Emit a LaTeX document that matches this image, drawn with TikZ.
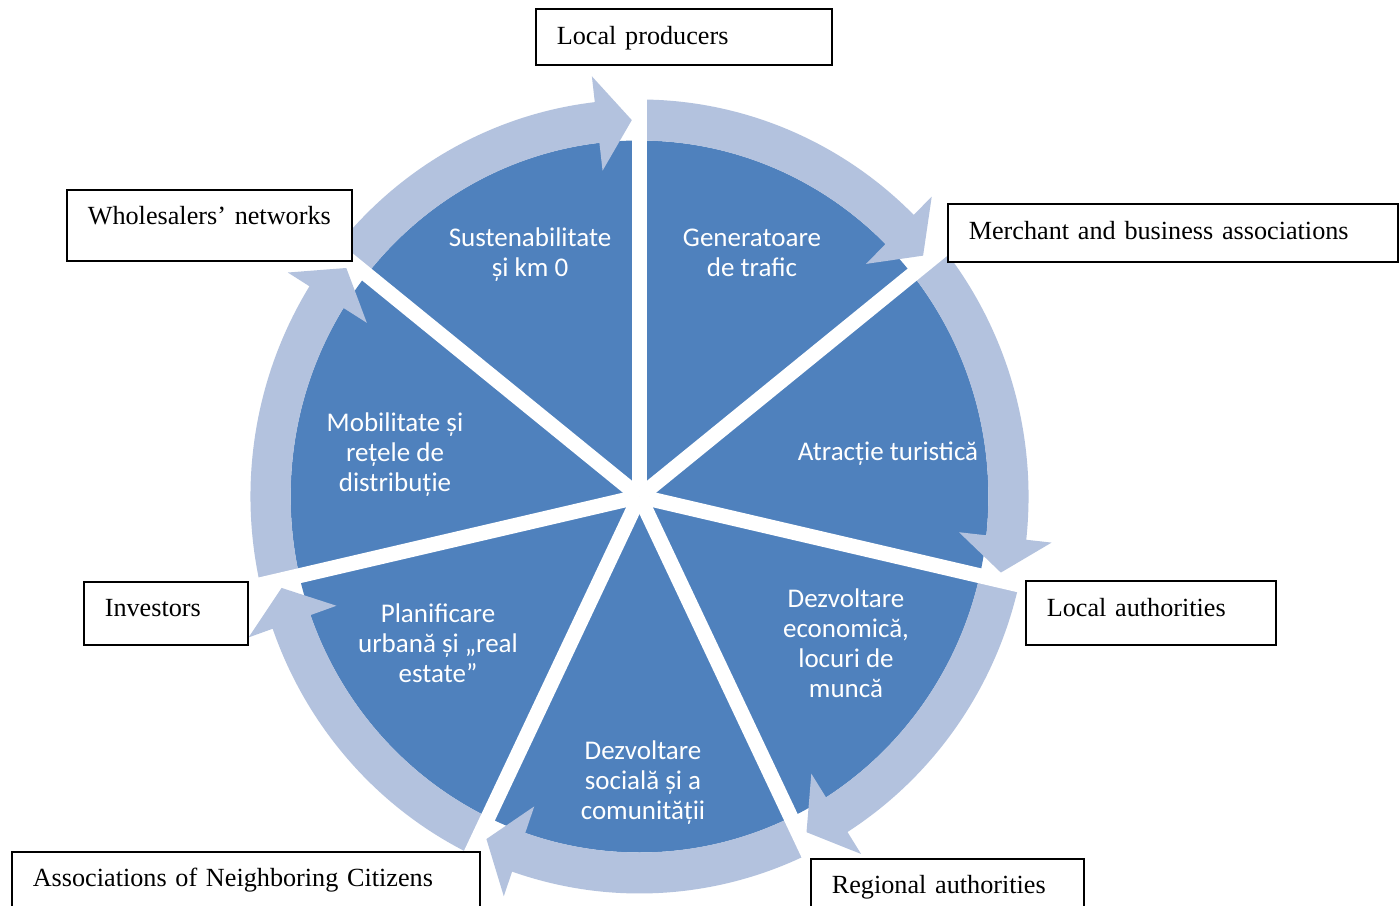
\documentclass[tikz,border=0pt]{standalone}
\usepackage{fontspec}
\setmainfont{Liberation Serif}
\newfontfamily\wedgefont{Carlito}
\definecolor{wedgeblue}{HTML}{4F81BD}
\definecolor{ringblue}{HTML}{B3C2DE}
\tikzset{
  wtext/.style={text=white, align=center, inner sep=0pt,
    font=\wedgefont\fontsize{13.5pt}{15pt}\selectfont},
  box/.style n args={3}{draw=black, fill=white, line width=0.8pt, anchor=north west,
    inner xsep=10.5pt, inner ysep=0pt, align=left, text width=#1,
    text height=#2, text depth=#3,
    font=\fontsize{13.1pt}{15pt}\selectfont},
  ringarrow/.style={fill=ringblue},
  gapline/.style={draw=white, line width=7.5pt}
}
\begin{document}
\begin{tikzpicture}[x=0.5pt,y=0.5pt]
\useasboundingbox (0,0) rectangle (1400,905);
\fill[white] (0,0) rectangle (1400,905);
\begin{scope}[shift={(639.5,408.5)}, xscale=0.98]
  \coordinate (C) at (0,0);
  \fill[wedgeblue] (C) circle (356);
  \foreach \k in {0,...,6} {
    \pgfmathsetmacro\a{90-51.4286*\k}
    \pgfmathsetmacro\b{\a-51.4286+1.2}
    \pgfmathsetmacro\h{\b+5.4}
    \fill[ringarrow] (\a:356) arc[start angle=\a, end angle=\h, radius=356]
      -- (\h:328) -- (\b:376.5) -- (\h:423) -- (\h:397)
      arc[start angle=\h, end angle=\a, radius=397] -- cycle;
  }
  \foreach \k in {0,...,6} {
    \draw[gapline] (C) -- ({90-51.4286*\k}:410);
  }
\end{scope}

\node[wtext] (t1) at (530,650) {Sustenabilitate\\și km 0};
\node[wtext] (t2) at (752,652) {Generatoare\\de trafic};
\node[wtext] (t3) at (888,451) {Atracție turistică};
\node[wtext] (t4) at (846,262) {Dezvoltare\\economică,\\locuri de\\muncă};
\node[wtext] (t5) at (643,122) {Dezvoltare\\socială și a\\comunității};
\node[wtext] (t6) at (438,262) {Planificare\\urbană și „real\\estate”};
\node[wtext] (t7) at (395,450) {Mobilitate și\\rețele de\\distribuție};

\node[box={127pt}{18pt}{10pt}] (lp) at (535,897) {\mbox{Local producers}};
\node[box={121.5pt}{17.5pt}{18pt}] (wn) at (66,716) {\mbox{Wholesalers’ networks}};
\node[box={204pt}{18pt}{11pt}] (ma) at (947,702) {\mbox{Merchant and business associations}};
\node[box={104pt}{18pt}{14pt}] (la) at (1025,325) {\mbox{Local authorities}};
\node[box={61pt}{17.5pt}{14pt}] (inv) at (83,324) {\mbox{Investors}};
\node[box={213pt}{17.5pt}{13.5pt}] (anc) at (11,54) {\mbox{Associations of Neighboring Citizens}};
\node[box={115.5pt}{17.5pt}{12.5pt}] (ra) at (810,47) {\mbox{Regional authorities}};
\end{tikzpicture}
\end{document}
